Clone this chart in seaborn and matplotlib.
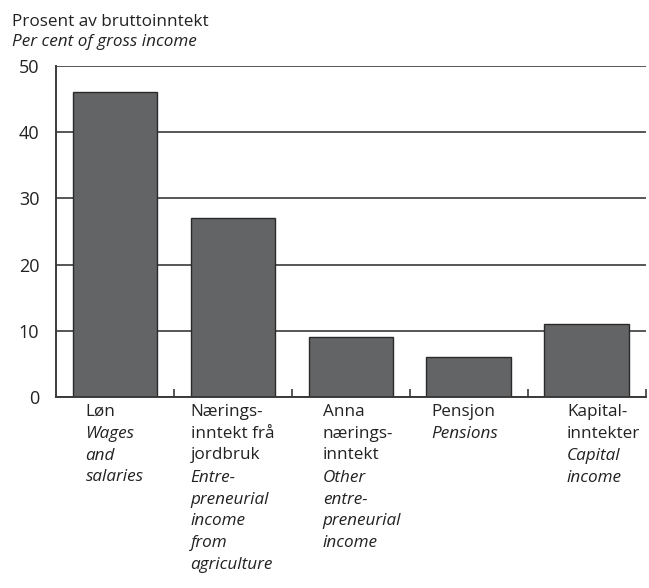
import numpy as np
import matplotlib
matplotlib.use('Agg')
import matplotlib.pyplot as plt
import matplotlib.transforms as mtransforms
import seaborn as sns
import pandas as pd

# Data
CATEGORIES = ['Løn', 'Nærings-\ninntekt frå\njordbruk', 'Anna\nnærings-\ninntekt',
              'Pensjon', 'Kapital-\ninntekter']
CATEGORIES_EN = ['Wages\nand\nsalaries', 'Entre-\npreneurial\nincome\nfrom\nagriculture',
                 'Other\nentre-\npreneurial\nincome', 'Pensions', 'Capital\nincome']
VALUES = [46, 27, 9, 6, 11]
Y_TICKS = [0, 10, 20, 30, 40, 50]

# label x offsets (category units) to mimic the original layout
LABEL_DX = [-0.25, -0.36, -0.24, -0.32, -0.17]

sns.set_theme(style='white')
plt.rcParams['font.family'] = ['Open Sans', 'DejaVu Sans']

df = pd.DataFrame({'kat': CATEGORIES, 'verdi': VALUES})

fig = plt.figure(figsize=(6.49, 5.88), dpi=100)
ax = fig.add_axes([0.0863, 0.3248, 0.909, 0.563])

sns.barplot(data=df, x='kat', y='verdi', color='#636466', saturation=1,
            edgecolor='#2a2a2a', linewidth=1.0, width=0.72, ax=ax)

ax.set_ylim(0, 50)
ax.set_xlim(-0.5, 4.5)
ax.set_yticks(Y_TICKS)
ax.set_yticklabels([str(t) for t in Y_TICKS], fontsize=13)
ax.tick_params(axis='y', length=0, pad=12, labelcolor='#222222')
ax.set_axisbelow(True)
ax.yaxis.grid(True, color='#3a3a3a', linewidth=1.2)
ax.xaxis.grid(False)

ax.set_xticks(range(len(CATEGORIES)))
ax.set_xticklabels([])
ax.tick_params(axis='x', which='major', length=0)
ax.set_xticks(np.arange(0.5, len(CATEGORIES), 1.0), minor=True)
ax.tick_params(axis='x', which='minor', direction='in', length=6, width=1.2,
               color='#3a3a3a', bottom=True)

for side in ['top', 'right']:
    ax.spines[side].set_visible(False)
for side in ['left', 'bottom']:
    ax.spines[side].set_color('#3a3a3a')
    ax.spines[side].set_linewidth(1.4)

ax.set_xlabel('')
ax.set_ylabel('')

trans = mtransforms.blended_transform_factory(ax.transData, ax.transAxes)
line_h = 15.8  # points per text line
for i, (no, en) in enumerate(zip(CATEGORIES, CATEGORIES_EN)):
    x = i + LABEL_DX[i]
    n_no = no.count('\n') + 1
    ax.annotate(no, xy=(x, 0), xycoords=trans, xytext=(0, -5), textcoords='offset points',
                ha='left', va='top', fontsize=12.3, linespacing=1.48, color='#222222',
                annotation_clip=False)
    ax.annotate(en, xy=(x, 0), xycoords=trans, xytext=(0, -5 - n_no * line_h),
                textcoords='offset points', ha='left', va='top', fontsize=12.3,
                linespacing=1.48, style='italic', color='#222222', annotation_clip=False)

fig.text(0.018, 0.977, 'Prosent av bruttoinntekt', ha='left', va='top', fontsize=12.3,
         color='#222222')
fig.text(0.018, 0.943, 'Per cent of gross income', ha='left', va='top', fontsize=12.3,
         style='italic', color='#222222')

plt.savefig('out.png', dpi=100)
plt.close()
